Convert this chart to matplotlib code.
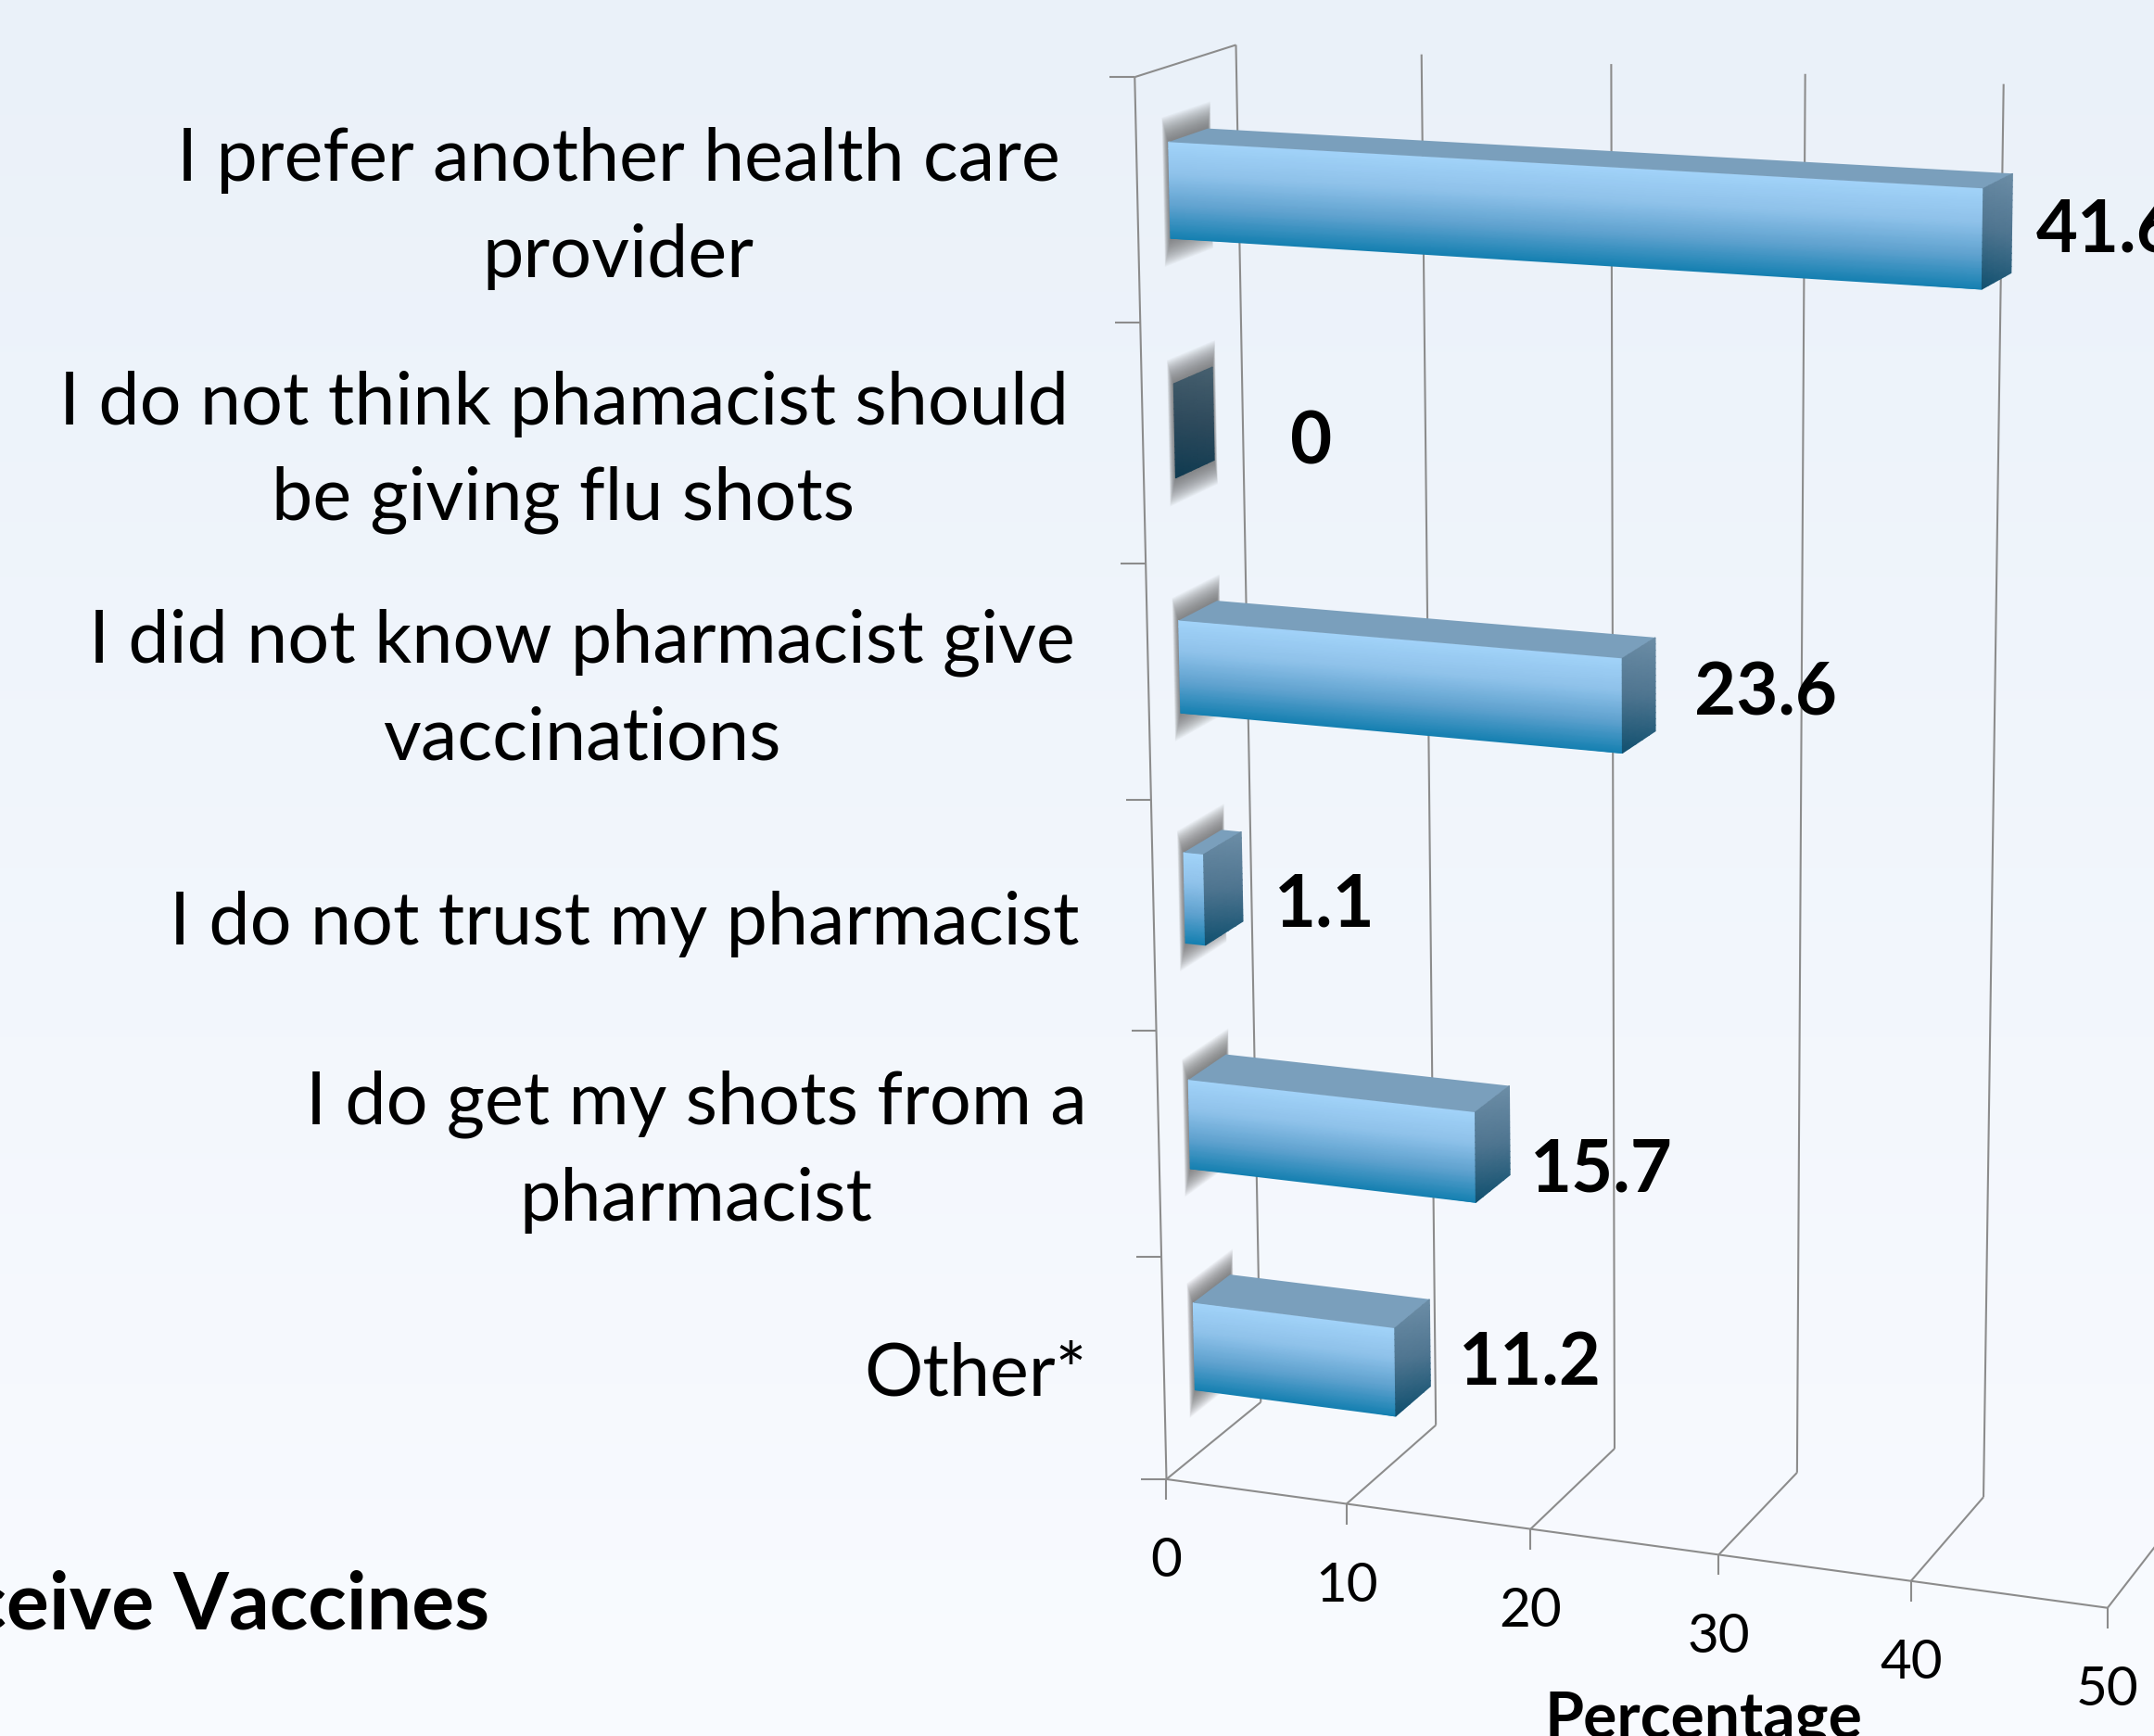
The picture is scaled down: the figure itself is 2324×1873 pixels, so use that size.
import numpy as np
from matplotlib import pyplot as plt
from matplotlib.colors import LinearSegmentedColormap

W, H = 2324, 1873

categories = ['I prefer another health care\nprovider',
              'I do not think phamacist should\nbe giving flu shots',
              'I did not know pharmacist give\nvaccinations',
              'I do not trust my pharmacist',
              'I do get my shots from a\npharmacist',
              'Other*']
values = [41.6, 0, 23.6, 1.1, 15.7, 11.2]
value_labels = ['41.6', '0', '23.6', '1.1', '15.7', '11.2']
ticks = [0, 10, 20, 30, 40, 50]
x_title = 'Percentage'
side_text = 'Receive Vaccines'

# layout of the text, in pixels
cat_x = [667, 608, 628, 674, 751, 1052]
cat_y = [225, 488, 745, 997, 1243, 1484]
label_dx = [26, 83, 42, 35, 22, 31]
label_dy = [9, 32, 11, 32, 44, 24]

# calibration of the fake 3d box: (value, row fraction, depth) -> picture pixel
calib = [
    (0, 1, 0, 1259, 1595), (10, 1, 0, 1453, 1623), (20, 1, 0, 1652, 1651),
    (30, 1, 0, 1854, 1679), (40, 1, 0, 2062, 1705), (50, 1, 0, 2273, 1734),
    (0, 1, 1, 1359, 1512), (10, 1, 1, 1550, 1538), (30, 1, 1, 1939, 1589), (40, 1, 1, 2140, 1615),
    (0, 0, 0, 1224, 83), (0, 0, 1, 1333, 49), (10, 0, 1, 1534, 59), (30, 0, 1, 1948, 80), (40, 0, 1, 2162, 90),
    (0, 1 / 6, 0, 1230, 349), (0, 2 / 6, 0, 1236, 608), (0, 3 / 6, 0, 1242, 862),
    (0, 4 / 6, 0, 1248, 1111), (0, 5 / 6, 0, 1253, 1357),
]


def fit_camera(points):
    rows, rhs = [], []
    for v, t, d, px, py in points:
        X = [v / 50, t, d]
        rows.append(X + [1, 0, 0, 0, 0] + [-px * a for a in X])
        rhs.append(px)
        rows.append([0, 0, 0, 0] + X + [1] + [-py * a for a in X])
        rhs.append(py)
    return np.linalg.lstsq(np.array(rows, float), np.array(rhs, float), rcond=None)[0]


cam = fit_camera(calib)


def project(v, t, d):
    v, t, d = np.asarray(v, float) / 50, np.asarray(t, float), np.asarray(d, float)
    w = cam[8] * v + cam[9] * t + cam[10] * d + 1
    x = (cam[0] * v + cam[1] * t + cam[2] * d + cam[3]) / w
    y = (cam[4] * v + cam[5] * t + cam[6] * d + cam[7]) / w
    return x, y


plt.rcParams['font.family'] = ['Lato', 'DejaVu Sans']
fig = plt.figure(figsize=(W / 100, H / 100), dpi=100)
ax = fig.add_axes([0, 0, 1, 1])

bg = LinearSegmentedColormap.from_list('bg', ['#EAF1F9', '#F9FBFF'])
ax.imshow(np.linspace(0, 1, 256).reshape(-1, 1), cmap=bg, extent=[0, W, H, 0], aspect='auto', zorder=0)

line_kw = dict(color='#8C8C8C', lw=1.5, zorder=1, solid_capstyle='butt')


def seg(a, b):
    xa, ya = project(*a)
    xb, yb = project(*b)
    ax.plot([xa, xb], [ya, yb], **line_kw)


# box lines
seg((0, 0, 0), (0, 1, 0))
seg((0, 0, 0), (0, 0, 1))
seg((0, 1, 0), (50, 1, 0))
for tk in ticks:
    seg((tk, 0, 1), (tk, 1, 1))
    seg((tk, 1, 0), (tk, 1, 1))
    x0, y0 = project(tk, 1, 0)
    ax.plot([x0, x0], [y0, y0 + 22], **line_kw)
    ax.text(x0, y0 + 89, str(tk), fontsize=42, ha='center', va='center', color='black', zorder=6)
for i in range(7):
    x0, y0 = project(0, i / 6, 0)
    ax.plot([x0 - 27, x0], [y0, y0], **line_kw)

d0, d1 = 0.31, 0.70
half = 0.033
front = LinearSegmentedColormap.from_list('front', ['#A2D3F9', '#8FC2EA', '#5FA2CF', '#1580B1'])
side = LinearSegmentedColormap.from_list('side', ['#6C8DA6', '#4F7590', '#11506F'])
side0 = LinearSegmentedColormap.from_list('side0', ['#47606F', '#2E4A5C', '#0F3A50'])

for i, val in enumerate(values):
    tc = (i + 0.5) / 6 + 0.0008
    t0, t1 = tc - half, tc + half

    # soft shadow on the left wall
    for k in np.linspace(1, 0, 24):
        ts = [t0 - 0.018 * k, t0 - 0.018 * k, t1 + 0.018 * k, t1 + 0.018 * k]
        ds = [d0 - 0.06 * k, d1 + 0.03 * k, d1 + 0.03 * k, d0 - 0.06 * k]
        sx, sy = project(np.zeros(4), ts, ds)
        ax.fill(sx, sy, color='#666666', alpha=0.055, lw=0, zorder=2)

    # front face
    if val > 0:
        vv, tt = np.meshgrid([0, val], np.linspace(t0, t1, 16))
        fx, fy = project(vv, tt, np.full(vv.shape, d0))
        ax.pcolormesh(fx, fy, (tt - t0) / (t1 - t0), cmap=front, shading='gouraud', vmin=0, vmax=1, zorder=3)
        # top face
        tx, ty = project([0, val, val, 0], np.full(4, t0), [d0, d0, d1, d1])
        ax.fill(tx, ty, color='#7A9FBC', lw=0, zorder=3)

    # end face
    tt, dd = np.meshgrid(np.linspace(t0, t1, 16), np.linspace(d0, d1, 6), indexing='ij')
    ex, ey = project(np.full(tt.shape, val), tt, dd)
    shade = 0.8 * (tt - t0) / (t1 - t0) + 0.2 * (d1 - dd) / (d1 - d0)
    ax.pcolormesh(ex, ey, shade, cmap=side if val > 0 else side0, shading='gouraud', vmin=0, vmax=1, zorder=3)

    lx, ly = project(val, tc, d1)
    ax.text(lx + label_dx[i], ly + label_dy[i], value_labels[i], fontsize=56, fontweight='bold',
            ha='left', va='center', color='black', zorder=6)
    ax.text(cat_x[i], cat_y[i], categories[i], fontsize=57, ha='center', va='center', color='black',
            linespacing=1.54, zorder=6)

ax.text(528, 1758, side_text, fontsize=62, fontweight='bold', ha='right', va='baseline', color='black', zorder=6)
ax.text(1838, 1875, x_title, fontsize=49, fontweight='bold', ha='center', va='baseline', color='black', zorder=6)

ax.set_xlim(0, W)
ax.set_ylim(H, 0)
ax.axis('off')
fig.savefig('out.png', dpi=100)
